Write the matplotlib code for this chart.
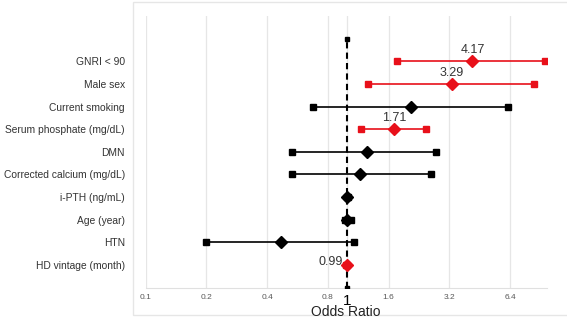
import matplotlib
matplotlib.use("Agg")
import matplotlib.pyplot as plt
from matplotlib.patches import Rectangle

plt.rcParams['font.family'] = ['Liberation Sans', 'DejaVu Sans']

# rows from top to bottom
labels = ["GNRI < 90", "Male sex", "Current smoking", "Serum phosphate (mg/dL)", "DMN",
          "Corrected calcium (mg/dL)", "i-PTH (ng/mL)", "Age (year)", "HTN", "HD vintage (month)"]
odds = [4.17, 3.29, 2.07, 1.71, 1.25, 1.16, 1.00, 1.00, 0.47, 0.99]
lower = [1.77, 1.26, 0.675, 1.17, 0.53, 0.53, 0.99, 0.97, 0.20, 0.98]
upper = [9.55, 8.43, 6.24, 2.45, 2.74, 2.60, 1.01, 1.04, 1.08, 1.00]
signif = [True, True, False, True, False, False, False, False, False, True]
shown = {"GNRI < 90": "4.17", "Male sex": "3.29", "Serum phosphate (mg/dL)": "1.71",
         "HD vintage (month)": "0.99"}

xticks = [0.1, 0.2, 0.4, 0.8, 1, 1.6, 3.2, 6.4]
xticklabels = ["0.1", "0.2", "0.4", "0.8", "1", "1.6", "3.2", "6.4"]

fig = plt.figure(figsize=(5.67, 3.19), dpi=100)
fig.patches.append(Rectangle((132.5 / 567, 1 - 315 / 319), 1, 313.5 / 319,
                             transform=fig.transFigure, fill=False,
                             edgecolor="#e6e6e6", linewidth=1.0))
ax = fig.add_axes([145.7 / 567, 1 - 287.7 / 319, (547.3 - 145.7) / 567, (287.7 - 16) / 319])

n = len(labels)
ys = [n - i for i in range(n)]

ax.plot([1, 1], [0, n + 1], color="black", lw=1.5, ls=(0, (3, 2)), zorder=3)
ax.plot([1, 1], [0, n + 1], ls="none", marker="s", ms=3.5, color="black", zorder=4)

for y, lab, o, lo, hi, sg in zip(ys, labels, odds, lower, upper, signif):
    c = "#e8101a" if sg else "black"
    ax.plot([lo, hi], [y, y], color=c, lw=1.2, zorder=4)
    ax.plot([lo, hi], [y, y], ls="none", marker="s", ms=3.8, color=c, zorder=5)
    ax.plot([o], [y], ls="none", marker="D", ms=6, color=c, zorder=6)
    if lab in shown:
        if lab == "HD vintage (month)":
            ax.text(o * 0.96, y + 0.15, shown[lab], ha="right", va="center",
                    fontsize=9, color="#333333")
        else:
            ax.text(o, y + 0.5, shown[lab], ha="center", va="center",
                    fontsize=9, color="#333333")

ax.set_xscale("log", base=2)
ax.set_xlim(0.1, 9.8)
ax.set_ylim(0, 12)
ax.set_xticks(xticks)
ax.set_xticklabels(xticklabels)
ax.minorticks_off()
for t in ax.get_xticklabels():
    if t.get_text() == "1":
        t.set_fontsize(11)
        t.set_color("black")
    else:
        t.set_fontsize(6)
        t.set_color("#595959")
ax.tick_params(axis="x", length=0, pad=4.5)
ax.set_yticks(ys)
ax.set_yticklabels(labels, fontsize=7.4, color="#333333")
ax.tick_params(axis="y", length=0, pad=15)
ax.grid(axis="x", color="#e6e6e6", lw=0.9)
ax.set_axisbelow(True)
for s in ["top", "right", "left"]:
    ax.spines[s].set_visible(False)
ax.spines["bottom"].set_color("#e0e0e0")
fig.text(346 / 567, 1 - 312.5 / 319, "Odds Ratio", ha="center", va="center",
         fontsize=10, color="#222222")

fig.savefig("out.png", dpi=100)
